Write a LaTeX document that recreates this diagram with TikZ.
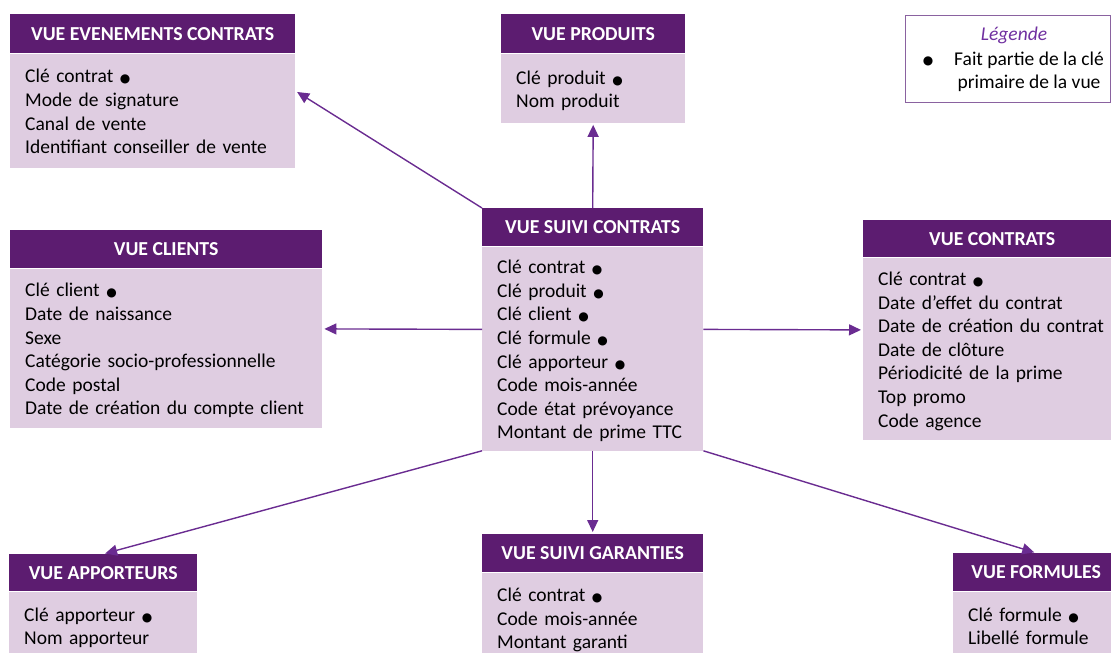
\documentclass[tikz,border=0pt]{standalone}
\usepackage{fontspec}
\setmainfont{Carlito}
\newfontfamily\symfont{DejaVu Sans}
\usepackage{tikz}
\usetikzlibrary{arrows.meta,positioning,calc}

\definecolor{headpurple}{RGB}{92,28,112}
\definecolor{bodylilac}{RGB}{223,205,225}
\definecolor{linkpurple}{RGB}{106,44,145}
\definecolor{legendline}{RGB}{138,98,160}
\definecolor{legendtext}{RGB}{112,48,160}
\newcommand{\keydot}{{\symfont\fontsize{12}{12}\selectfont ●}}

\begin{document}
\begin{tikzpicture}
[x=1pt,y=-1pt,->,>={Triangle[length=12pt,width=11pt]},shorten >=2pt,
viewhead/.style={fill=headpurple,text=white,inner sep=0pt,anchor=north west,
	font=\bfseries\fontsize{19.8}{22}\selectfont},
viewbody/.style={fill=bodylilac,align=left,inner xsep=15pt,inner ysep=0pt,
	font=\fontsize{19.5}{23.6}\selectfont,
	execute at begin node=\rule{0pt}{19.5pt},execute at end node=\rule[-4pt]{0pt}{4pt}},
link/.style={draw=linkpurple,line width=1.4pt}]
\useasboundingbox (0,0) rectangle (1111,653);
\clip (0,0) rectangle (1111,653);

% views
\node[viewhead,minimum width=285pt,minimum height=39pt] (evh) at (10,14) {VUE EVENEMENTS CONTRATS};
\node[viewbody,below=0pt of evh,text width=255pt,minimum height=114pt] (evb)
	{Clé contrat \keydot\\Mode de signature\\Canal de vente\\Identifiant conseiller de vente};

\node[viewhead,minimum width=184pt,minimum height=39pt] (prodh) at (501,14) {VUE PRODUITS};
\node[viewbody,below=0pt of prodh,text width=154pt,minimum height=69pt] (prodb)
	{Clé produit \keydot\\Nom produit};

\node[viewhead,minimum width=221pt,minimum height=38pt] (suivih) at (482,208) {VUE SUIVI CONTRATS};
\node[viewbody,below=0pt of suivih,text width=191pt,minimum height=204pt] (suivib)
	{Clé contrat \keydot\\Clé produit \keydot\\Clé client \keydot\\Clé formule \keydot\\
	Clé apporteur \keydot\\Code mois-année\\Code état prévoyance\\Montant de prime TTC};

\node[viewhead,minimum width=312pt,minimum height=38pt] (clih) at (10,230) {VUE CLIENTS};
\node[viewbody,below=0pt of clih,text width=282pt,minimum height=159pt] (clib)
	{Clé client \keydot\\Date de naissance\\Sexe\\Catégorie socio-professionnelle\\
	Code postal\\Date de création du compte client};

\node[viewhead,minimum width=258pt,minimum height=37pt] (conh) at (863,220) {VUE CONTRATS};
\node[viewbody,below=0pt of conh,text width=228pt,minimum height=182pt] (conb)
	{Clé contrat \keydot\\Date d’effet du contrat\\Date de création du contrat\\Date de clôture\\
	Périodicité de la prime\\Top promo\\Code agence};

\node[viewhead,minimum width=188pt,minimum height=37pt] (apph) at (9,554) {VUE APPORTEURS};
\node[viewbody,below=0pt of apph,text width=158pt,minimum height=67pt] (appb)
	{Clé apporteur \keydot\\Nom apporteur};

\node[viewhead,minimum width=221pt,minimum height=38pt] (garh) at (482,534) {VUE SUIVI GARANTIES};
\node[viewbody,below=0pt of garh,text width=191pt,minimum height=90pt] (garb)
	{Clé contrat \keydot\\Code mois-année\\Montant garanti};

\node[viewhead,minimum width=166pt,minimum height=38pt] (forh) at (953,553) {VUE FORMULES};
\node[viewbody,below=0pt of forh,text width=136pt,minimum height=67pt] (forb)
	{Clé formule \keydot\\Libellé formule};

% legend
\node[draw=legendline,line width=1.2pt,minimum width=205pt,minimum height=87pt,anchor=north west] (leg) at (905,15) {};
\node[text=legendtext,font=\itshape\fontsize{19.5}{23.6}\selectfont] (legt) at (1014,35) {Légende};
\node (legdot) at (928,61) {\keydot};
\node[align=center,font=\fontsize{19.5}{23.6}\selectfont] (legtxt) at (1029,72) {Fait partie de la clé\\primaire de la vue};

% links
\draw[link] (suivih.north west) -- ($(evh.north east)!0.5!(evb.south east)$);
\draw[link] (suivih.north) -- (prodb.south);
\draw[link] ($(suivih.north west)!0.5!(suivib.south west)$) -- ($(clih.north east)!0.5!(clib.south east)$);
\draw[link] ($(suivih.north east)!0.5!(suivib.south east)$) -- ($(conh.north west)!0.5!(conb.south west)$);
\draw[link] (suivib.south west) -- (apph.north);
\draw[link] (suivib.south) -- (garh.north);
\draw[link] (suivib.south east) -- (forh.north);
\end{tikzpicture}
\end{document}
